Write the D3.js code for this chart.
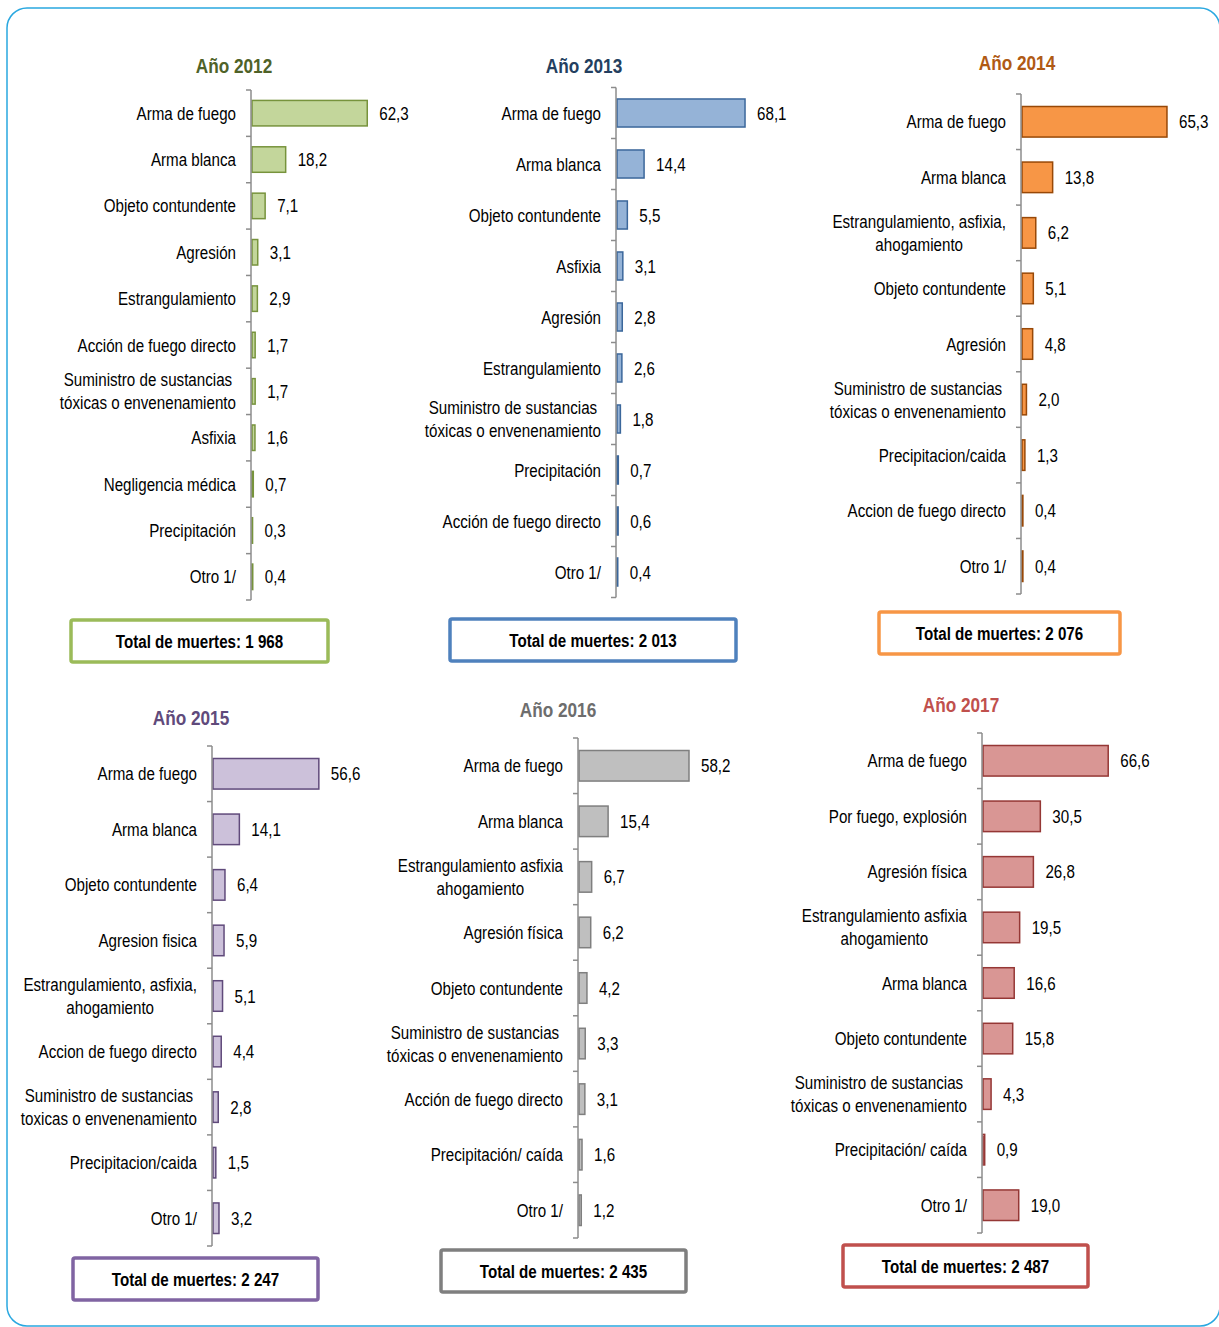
<!DOCTYPE html>
<html>
<head>
<meta charset="utf-8">
<script src="https://cdn.jsdelivr.net/npm/d3@7"></script>
<style>
  html, body { margin: 0; padding: 0; background: #fff; }
  svg { display: block; }
  text { font-family: "Liberation Sans", Arial, sans-serif; }
</style>
</head>
<body>
<svg id="chart" width="1219" height="1327"></svg>
<script>
// ---------- DATA ----------
const years = [2012, 2013, 2014, 2015, 2016, 2017];
const totals = [1968, 2013, 2076, 2247, 2435, 2487];

const cats2012 = ["Arma de fuego", "Arma blanca", "Objeto contundente", "Agresión", "Estrangulamiento",
  "Acción de fuego directo", "Suministro de sustancias \ntóxicas o envenenamiento", "Asfixia",
  "Negligencia médica", "Precipitación", "Otro 1/"];
const vals2012 = [62.3, 18.2, 7.1, 3.1, 2.9, 1.7, 1.7, 1.6, 0.7, 0.3, 0.4];

const cats2013 = ["Arma de fuego", "Arma blanca", "Objeto contundente", "Asfixia", "Agresión",
  "Estrangulamiento", "Suministro de sustancias\ntóxicas o envenenamiento", "Precipitación",
  "Acción de fuego directo", "Otro 1/"];
const vals2013 = [68.1, 14.4, 5.5, 3.1, 2.8, 2.6, 1.8, 0.7, 0.6, 0.4];

const cats2014 = ["Arma de fuego", "Arma blanca", "Estrangulamiento, asfixia,\nahogamiento", "Objeto contundente",
  "Agresión", "Suministro de sustancias\ntóxicas o envenenamiento", "Precipitacion/caida",
  "Accion de fuego directo", "Otro 1/"];
const vals2014 = [65.3, 13.8, 6.2, 5.1, 4.8, 2.0, 1.3, 0.4, 0.4];

const cats2015 = ["Arma de fuego", "Arma blanca", "Objeto contundente", "Agresion fisica",
  "Estrangulamiento, asfixia,\nahogamiento", "Accion de fuego directo",
  "Suministro de sustancias\ntoxicas o envenenamiento", "Precipitacion/caida", "Otro 1/"];
const vals2015 = [56.6, 14.1, 6.4, 5.9, 5.1, 4.4, 2.8, 1.5, 3.2];

const cats2016 = ["Arma de fuego", "Arma blanca", "Estrangulamiento asfixia\nahogamiento", "Agresión física",
  "Objeto contundente", "Suministro de sustancias\ntóxicas o envenenamiento", "Acción de fuego directo",
  "Precipitación/ caída", "Otro 1/"];
const vals2016 = [58.2, 15.4, 6.7, 6.2, 4.2, 3.3, 3.1, 1.6, 1.2];

const cats2017 = ["Arma de fuego", "Por fuego, explosión", "Agresión física",
  "Estrangulamiento asfixia\nahogamiento", "Arma blanca", "Objeto contundente",
  "Suministro de sustancias\ntóxicas o envenenamiento", "Precipitación/ caída", "Otro 1/"];
const vals2017 = [66.6, 30.5, 26.8, 19.5, 16.6, 15.8, 4.3, 0.9, 19.0];

const categories = [cats2012, cats2013, cats2014, cats2015, cats2016, cats2017];
const values = [vals2012, vals2013, vals2014, vals2015, vals2016, vals2017];

// ---------- LAYOUT & STYLE ----------
const layout = [
  { axisX: 251, y0: 90,   y1: 600,  ppu: 1.85, tx: 234,  ty: 65,  box: [71, 620, 257, 42] },
  { axisX: 616, y0: 87.5, y1: 597.5, ppu: 1.88, tx: 584, ty: 65,  box: [450, 619, 286, 42] },
  { axisX: 1021, y0: 94,  y1: 594,  ppu: 2.22, tx: 1017, ty: 62,  box: [879, 612, 241, 42] },
  { axisX: 212, y0: 746,  y1: 1246, ppu: 1.87, tx: 191,  ty: 717, box: [73, 1258, 245, 42] },
  { axisX: 578, y0: 738,  y1: 1238, ppu: 1.89, tx: 558,  ty: 709, box: [441, 1250, 245, 42] },
  { axisX: 982, y0: 733,  y1: 1233, ppu: 1.88, tx: 961,  ty: 704, box: [843, 1245, 245, 42] }
];
const styles = [
  { fill: "#c3d69b", stroke: "#77933c", title: "#4f6228", box: "#9bbb59" },
  { fill: "#95b3d7", stroke: "#3b679b", title: "#243f60", box: "#4f81bd" },
  { fill: "#f79646", stroke: "#984807", title: "#b05a14", box: "#f79646" },
  { fill: "#ccc1da", stroke: "#604a7b", title: "#604a7b", box: "#8064a2" },
  { fill: "#bfbfbf", stroke: "#7f7f7f", title: "#6d6d6d", box: "#7f7f7f" },
  { fill: "#d99694", stroke: "#953735", title: "#c0504d", box: "#c0504d" }
];

const NARROW = 0.82;   // Arial Narrow ≈ Arial at 82% width
const FS = 18.5;

const locale = d3.formatLocale({ decimal: ",", thousands: " ", grouping: [3], currency: ["", ""] });
const fmtVal = locale.format(".1f");
const fmtTot = locale.format(",d");

const svg = d3.select("#chart");

function ntext(parent, x, y, str, anchor, size, weight, color) {
  return parent.append("text")
    .attr("transform", `translate(${x},${y}) scale(${NARROW},1)`)
    .attr("text-anchor", anchor)
    .attr("font-size", size)
    .attr("font-weight", weight)
    .attr("fill", color)
    .text(str);
}

// outer frame
svg.append("rect")
  .attr("x", 7).attr("y", 8).attr("width", 1213).attr("height", 1318)
  .attr("rx", 20).attr("ry", 20)
  .attr("fill", "none").attr("stroke", "#2aa8e0").attr("stroke-width", 1.5);

years.forEach((yr, i) => {
  const L = layout[i], S = styles[i];
  const cats = categories[i], vals = values[i];
  const g = svg.append("g");
  const n = cats.length;
  const pin = 0.45;
  const y = d3.scaleBand().domain(cats).range([L.y0, L.y1]).paddingInner(pin).paddingOuter(pin / 2);
  const x = d3.scaleLinear().domain([0, 70]).range([L.axisX + 1, L.axisX + 1 + 70 * L.ppu]);

  // title
  ntext(g, L.tx, L.ty + 7.5, "Año " + yr, "middle", 21, "bold", S.title);

  // bars
  g.selectAll("rect.bar").data(vals).join("rect")
    .attr("class", "bar")
    .attr("x", x(0))
    .attr("y", (d, j) => y(cats[j]))
    .attr("width", d => Math.max(0.5, x(d) - x(0)))
    .attr("height", y.bandwidth())
    .attr("fill", S.fill)
    .attr("stroke", S.stroke)
    .attr("stroke-width", 1.5);

  // axis line + tick marks at category boundaries
  g.append("line")
    .attr("x1", L.axisX).attr("x2", L.axisX).attr("y1", L.y0).attr("y2", L.y1)
    .attr("stroke", "#8c8c8c").attr("stroke-width", 1.5);
  const step = y.step();
  d3.range(n + 1).forEach(k => {
    const ty = L.y0 + k * step;
    g.append("line")
      .attr("x1", L.axisX - 5).attr("x2", L.axisX).attr("y1", ty).attr("y2", ty)
      .attr("stroke", "#8c8c8c").attr("stroke-width", 1.5);
  });

  // value labels
  vals.forEach((d, j) => {
    ntext(g, x(d) + 12, y(cats[j]) + y.bandwidth() / 2 + 6.5, fmtVal(d), "start", FS, "normal", "#000");
  });

  // category labels
  const labelRight = L.axisX - 15;
  cats.forEach(c => {
    const lines = c.split("\n");
    const cy = y(c) + y.bandwidth() / 2;
    if (lines.length === 1) {
      ntext(g, labelRight, cy + 6.5, c, "end", FS, "normal", "#000");
    } else {
      const t = ntext(g, 0, 0, "", "middle", FS, "normal", "#000");
      const spans = lines.map((ln, k) => t.append("tspan")
        .attr("x", 0)
        .attr("y", (k - (lines.length - 1) / 2) * 23)
        .text(ln.trim()));
      let maxW = 0;
      spans.forEach(s => { maxW = Math.max(maxW, s.node().getComputedTextLength()); });
      t.attr("transform", `translate(${labelRight - maxW * NARROW / 2},${cy + 6.5}) scale(${NARROW},1)`);
    }
  });

  // total box
  const [bx, by, bw, bh] = L.box;
  g.append("rect")
    .attr("x", bx).attr("y", by).attr("width", bw).attr("height", bh)
    .attr("rx", 2)
    .attr("fill", "#fff").attr("stroke", S.box).attr("stroke-width", 3.5);
  ntext(g, bx + bw / 2, by + bh / 2 + 6.5, "Total de muertes: " + fmtTot(totals[i]), "middle", FS, "bold", "#000");
});
</script>
</body>
</html>
